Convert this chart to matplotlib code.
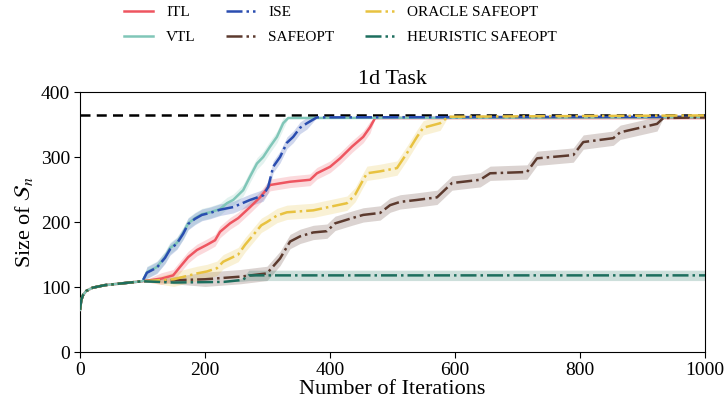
import matplotlib
matplotlib.use('Agg')
import matplotlib.pyplot as plt
import numpy as np

plt.rcParams['font.family'] = ['Liberation Serif', 'DejaVu Serif']
plt.rcParams['mathtext.fontset'] = 'stix'

# common start of all runs (iteration, size of safe set)
x_start = [0, 2, 5, 10, 20, 40, 70, 100]
y_start = [65, 80, 88, 94, 99, 103, 106, 109]

itl_x = [130, 149, 160, 173, 187, 203, 216, 224, 240, 253, 272, 288, 304, 336, 368, 379, 400, 416, 435, 453, 464, 472, 1000]
itl_y = [113, 118, 131, 146, 157, 165, 172, 185, 198, 206, 223, 238, 257, 262, 265, 275, 285, 298, 316, 331, 346, 360, 360]

vtl_x = [107, 123, 136, 144, 155, 165, 173, 184, 195, 208, 224, 235, 245, 261, 272, 283, 293, 304, 315, 325, 333, 1000]
vtl_y = [123, 131, 146, 160, 168, 183, 198, 206, 212, 215, 220, 229, 234, 249, 270, 290, 300, 316, 331, 352, 360, 361]

ise_x = [107, 123, 136, 144, 155, 165, 173, 184, 195, 208, 224, 245, 272, 293, 301, 309, 320, 331, 341, 352, 363, 379, 1000]
ise_y = [122, 130, 145, 158, 167, 182, 197, 205, 211, 214, 219, 223, 234, 241, 254, 285, 300, 322, 331, 345, 352, 361, 362]

oracle_x = [150, 187, 203, 219, 229, 240, 253, 264, 277, 290, 299, 315, 331, 373, 427, 440, 453, 459, 480, 507, 523, 539, 549, 576, 589, 1000]
oracle_y = [112, 121, 124, 129, 139, 144, 150, 165, 180, 195, 200, 210, 215, 218, 229, 242, 265, 275, 278, 283, 306, 331, 345, 352, 362, 364]

safeopt_x = [200, 256, 290, 299, 310, 320, 336, 352, 373, 395, 408, 435, 453, 480, 496, 512, 539, 571, 595, 640, 656, 715, 731, 789, 805, 853, 864, 923, 933, 1000]
safeopt_y = [112, 116, 120, 121, 133, 144, 170, 178, 184, 186, 198, 206, 211, 214, 226, 231, 234, 238, 260, 265, 275, 277, 298, 303, 323, 329, 338, 351, 360, 361]

heur_x = [150, 230, 260, 270, 1000]
heur_y = [107, 108, 111, 118, 118]

# std band half-widths
itl_w, vtl_w, ise_w, oracle_w, safeopt_w, heur_w = 9, 9, 9, 11, 11, 8
max_size = 365

series = [
    ('ITL', itl_x, itl_y, itl_w, '#ee5560', '-'),
    ('VTL', vtl_x, vtl_y, vtl_w, '#80c6b8', '-'),
    ('ISE', ise_x, ise_y, ise_w, '#2a4db0', '-.'),
    ('SAFEOPT', safeopt_x, safeopt_y, safeopt_w, '#5c3a2e', '-.'),
    ('ORACLE SAFEOPT', oracle_x, oracle_y, oracle_w, '#e8c240', '-.'),
    ('HEURISTIC SAFEOPT', heur_x, heur_y, heur_w, '#1d6e5e', '-.'),
]

fig = plt.figure(figsize=(7.24, 4.08), dpi=100)
ax = fig.add_axes([0.1105, 0.137, 0.8635, 0.6375])

ax.axhline(max_size, color='k', ls=(0, (4, 2.5)), lw=1.8, zorder=1)

for name, xs, ys, w, col, ls in series:
    x = np.array(x_start + xs, dtype=float)
    y = np.array(y_start + ys, dtype=float)
    # band only while still growing, closes at the start and on the final plateau
    band = np.r_[np.zeros(len(x_start)), np.full(len(xs) - 2, w), 0, 0]
    if name == 'HEURISTIC SAFEOPT':
        band = np.r_[np.zeros(len(x_start)), 0, 0, 2, w, w]
    ax.fill_between(x, y - band, y + band, color=col, alpha=0.22, lw=0, zorder=2)
    ax.plot(x, y, color=col, ls=ls, lw=1.8, label=name, zorder=3)

ax.set_xlim(0, 1000)
ax.set_ylim(0, 400)
ax.set_xticks([0, 200, 400, 600, 800, 1000])
ax.set_yticks([0, 100, 200, 300, 400])
ax.tick_params(labelsize=14, direction='out', length=4, pad=3)
ax.set_xlabel('Number of Iterations', fontsize=16, labelpad=1)
ax.set_ylabel(r'Size of $\mathcal{S}_n$', fontsize=16, labelpad=4)
ax.set_title('1d Task', fontsize=16, pad=6)

fig.legend(loc='center', bbox_to_anchor=(0.47, 0.939), ncol=3, frameon=False,
           fontsize=11, handlelength=1.9, handletextpad=0.85,
           columnspacing=2.0, labelspacing=0.75)

fig.savefig('out.png', dpi=100)
